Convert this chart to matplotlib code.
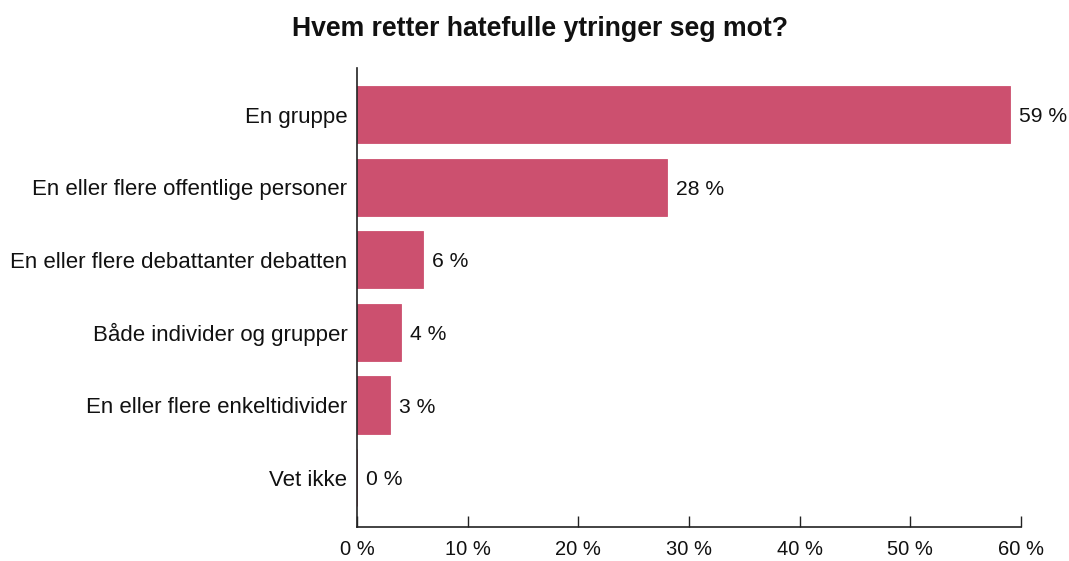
import matplotlib
matplotlib.use("Agg")
import matplotlib.pyplot as plt

categories = ["En gruppe", "En eller flere offentlige personer", "En eller flere debattanter debatten",
              "Både individer og grupper", "En eller flere enkeltidivider", "Vet ikke"]
values = [59, 28, 6, 4, 3, 0]
xticks = [0, 10, 20, 30, 40, 50, 60]
xticklabels = [f"{t} %" for t in xticks]
title = "Hvem retter hatefulle ytringer seg mot?"

plt.rcParams['font.family'] = ['Liberation Sans', 'DejaVu Sans']
color = "#CC506F"

fig = plt.figure(figsize=(10.69, 5.61), dpi=100)
ax = fig.add_axes([0.334, 0.0606, 0.621, 0.818])
ypos = list(range(len(categories)))
ax.barh(ypos, values, height=0.79, color=color, edgecolor=color, linewidth=0.6)
for y, v in zip(ypos, values):
    ax.text(v + 0.8, y, f"{v} %", va="center_baseline", ha="left", fontsize=15.2, color="#111111")
ax.set_yticks(ypos)
ax.set_yticklabels(categories, fontsize=16, color="#111111")
ax.set_ylim(5.68, -0.64)
ax.set_xlim(0, 60)
ax.set_xticks(xticks)
ax.set_xticklabels(xticklabels, fontsize=14.5, color="#111111")
ax.tick_params(axis="x", direction="in", length=8, width=1, pad=9, color="#222222")
ax.tick_params(axis="y", length=0, pad=7)
for s in ["top", "right"]:
    ax.spines[s].set_visible(False)
for s in ["left", "bottom"]:
    ax.spines[s].set_color("#222222")
    ax.spines[s].set_linewidth(1.2)
fig.text(0.505, 0.949, title, ha="center", va="center", fontsize=19.2, fontweight="bold", color="#111111")
fig.savefig("out.png", dpi=100)
